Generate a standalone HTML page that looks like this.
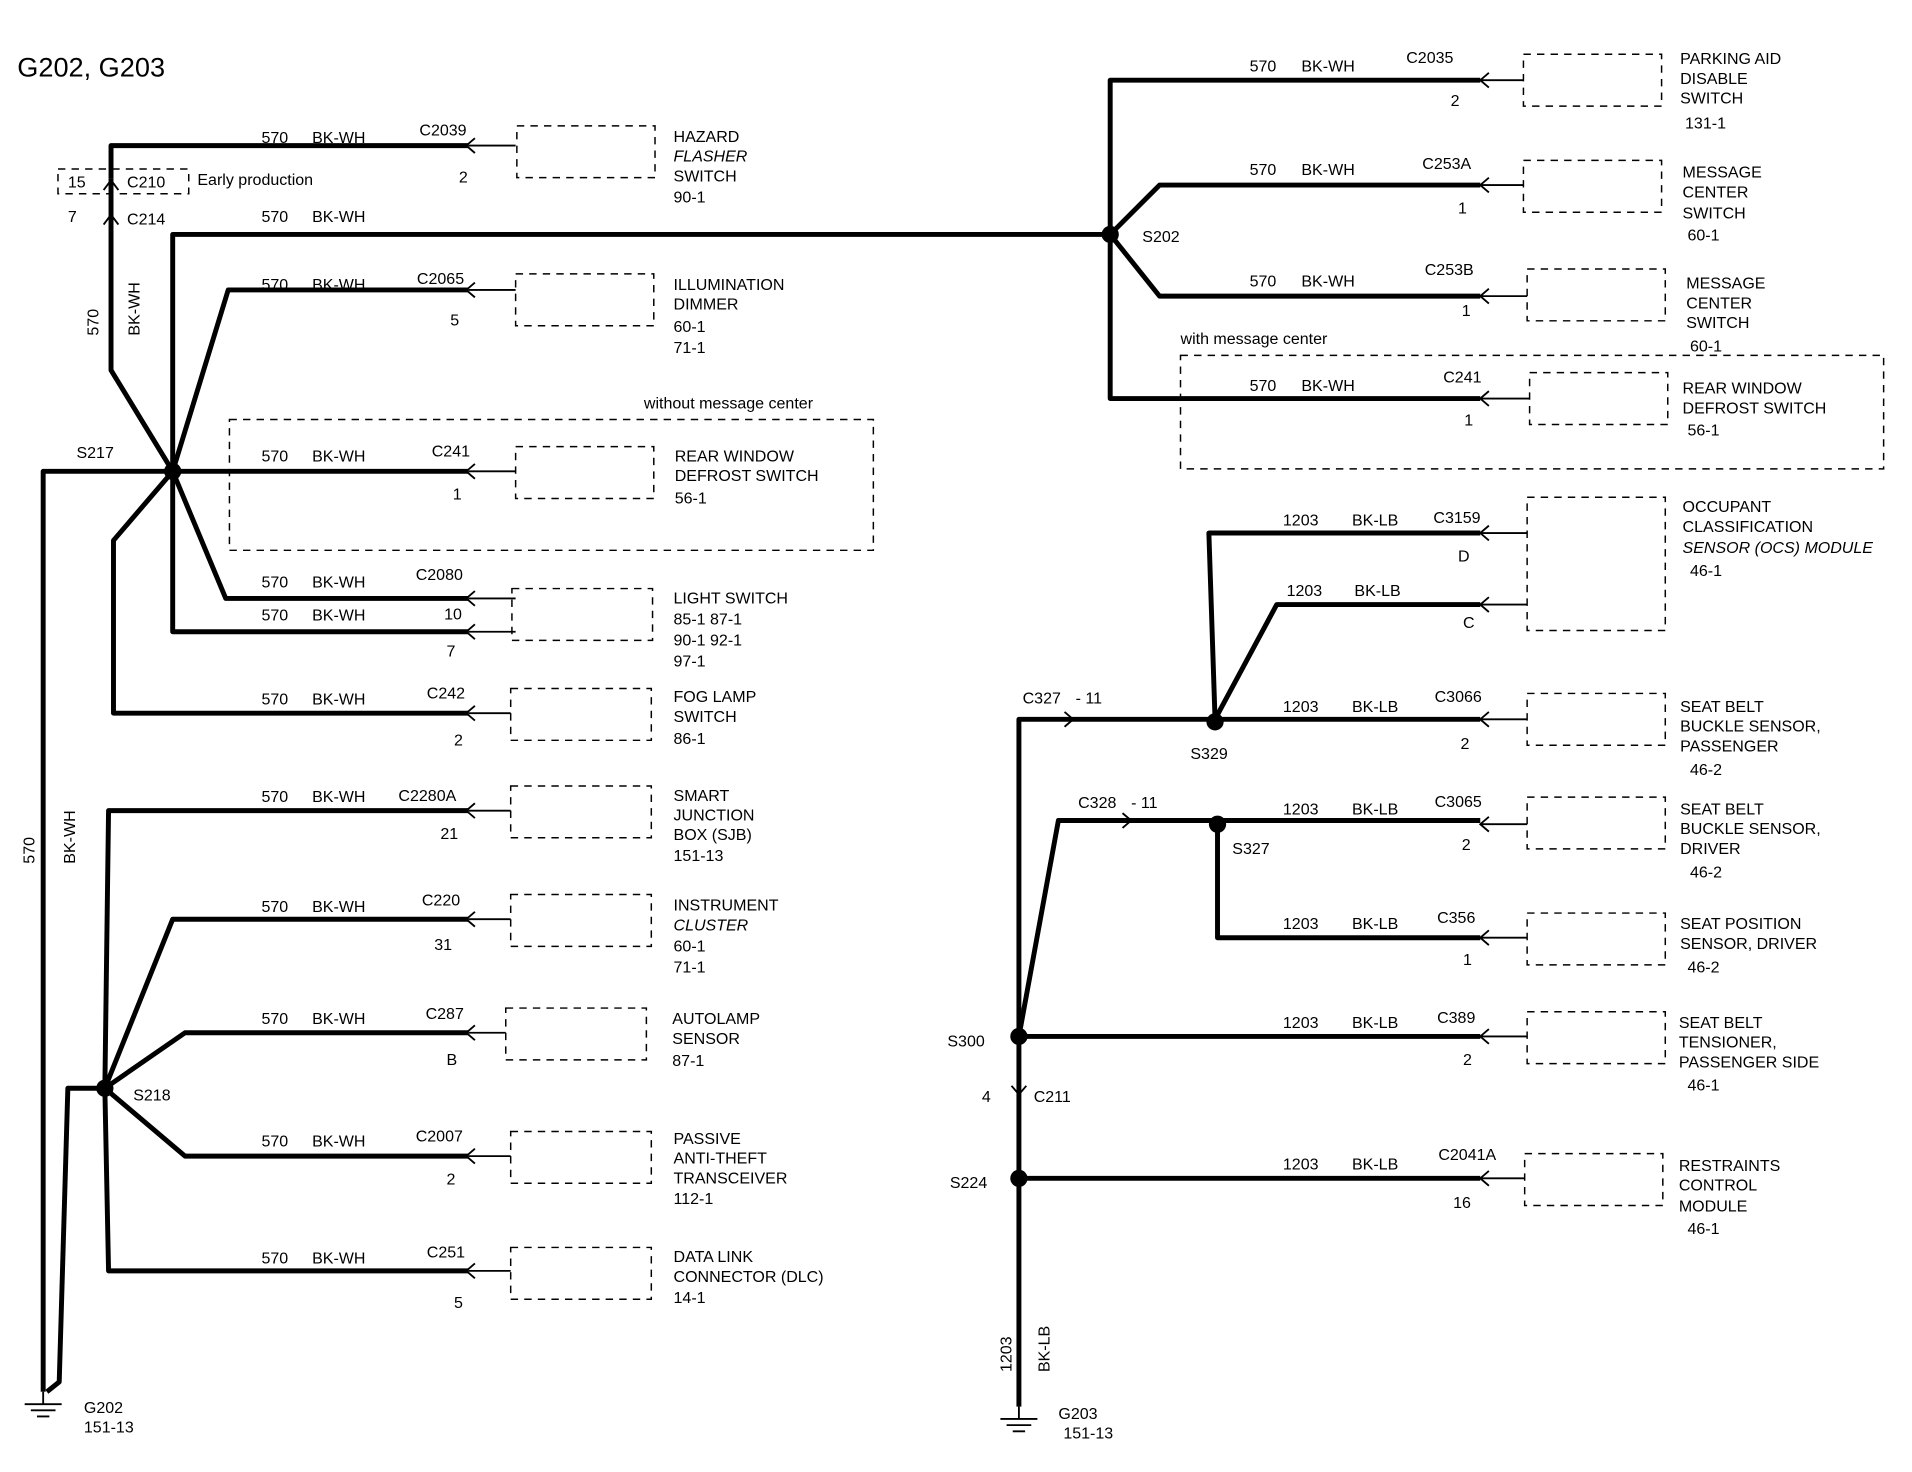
<!DOCTYPE html>
<html><head><meta charset="utf-8"><style>
html,body{margin:0;padding:0;background:#fff;}
svg{display:block}
text{font-family:"Liberation Sans",sans-serif;font-size:13px;fill:#000}
.w{stroke:#000;stroke-width:4;fill:none;stroke-linejoin:round}
.t{stroke:#000;stroke-width:1.5;fill:none}
.b{stroke:#000;stroke-width:1.2;fill:none;stroke-dasharray:6,5}
</style></head><body>
<svg width="1912" height="1472" viewBox="0 0 1550 1193" preserveAspectRatio="none" xmlns="http://www.w3.org/2000/svg">
<text x="14" y="62" style="font-size:22px">G202, G203</text>

<!-- LEFT wires -->
<path class="w" d="M90,145 V118 H380"/>
<path class="w" d="M90,145 V300 L140,382"/>
<path class="w" d="M140,382 V190 H900"/>
<path class="w" d="M140,382 L185,235 H380"/>
<path class="w" d="M140,382 H380"/>
<path class="w" d="M140,382 L183,485 H380"/>
<path class="w" d="M140,382 V512 H380"/>
<path class="w" d="M140,382 L92,438 V578 H380"/>
<path class="w" d="M140,382 H35 V1128"/>
<path class="w" d="M85,882 L88,657 H380"/>
<path class="w" d="M85,882 L140,745 H380"/>
<path class="w" d="M85,882 L150,837 H380"/>
<path class="w" d="M85,882 L150,937 H380"/>
<path class="w" d="M85,882 L88,1030 H380"/>
<path class="w" d="M85,882 H55 L48,1120 L38,1128"/>
<circle cx="140" cy="382" r="7"/>
<circle cx="85" cy="882" r="7"/>
<text x="62" y="371">S217</text>
<text x="108" y="892">S218</text>
<!-- C210 / C214 -->
<rect class="b" x="47" y="137" width="106" height="20"/>
<text x="55" y="152">15</text><text x="103" y="152">C210</text>
<text x="160" y="150">Early production</text>
<text x="55" y="180">7</text><text x="103" y="182">C214</text>
<path class="t" d="M84,154 L90,146 L96,154 M84,182 L90,174 L96,182"/>
<text transform="translate(80,272) rotate(-90)">570</text>
<text transform="translate(113,272) rotate(-90)">BK-WH</text>
<text transform="translate(28,700) rotate(-90)">570</text>
<text transform="translate(61,700) rotate(-90)">BK-WH</text>
<!-- ground G202 -->
<path class="t" d="M35,1128 V1138 M20,1138 H50 M25,1143 H45 M30,1148 H40"/>
<text x="68" y="1145">G202</text><text x="68" y="1161">151-13</text>

<!-- left connectors -->
<g id="lc">
<path class="t" d="M380,118 H418 M385,112 L378,118 L385,124 M380,235 H418 M385,229 L378,235 L385,241 M380,382 H418 M385,376 L378,382 L385,388 M380,485 H418 M385,479 L378,485 L385,491 M380,512 H418 M385,506 L378,512 L385,518 M380,578 H414 M385,572 L378,578 L385,584 M380,657 H414 M385,651 L378,657 L385,663 M380,745 H414 M385,739 L378,745 L385,751 M380,837 H410 M385,831 L378,837 L385,843 M380,937 H414 M385,931 L378,937 L385,943 M380,1030 H414 M385,1024 L378,1030 L385,1036"/>
</g>
<rect class="b" x="419" y="102" width="112" height="42"/>
<rect class="b" x="418" y="222" width="112" height="42"/>
<rect class="b" x="418" y="362" width="112" height="42"/>
<rect class="b" x="415" y="477" width="114" height="42"/>
<rect class="b" x="414" y="558" width="114" height="42"/>
<rect class="b" x="414" y="637" width="114" height="42"/>
<rect class="b" x="414" y="725" width="114" height="42"/>
<rect class="b" x="410" y="817" width="114" height="42"/>
<rect class="b" x="414" y="917" width="114" height="42"/>
<rect class="b" x="414" y="1011" width="114" height="42"/>
<rect class="b" x="186" y="340" width="522" height="106"/>
<text x="522" y="331">without message center</text>

<g>
<text x="212" y="116">570</text><text x="253" y="116">BK-WH</text><text x="340" y="110">C2039</text><text x="372" y="148">2</text>
<text x="212" y="180">570</text><text x="253" y="180">BK-WH</text>
<text x="212" y="235">570</text><text x="253" y="235">BK-WH</text><text x="338" y="230">C2065</text><text x="365" y="264">5</text>
<text x="212" y="374">570</text><text x="253" y="374">BK-WH</text><text x="350" y="370">C241</text><text x="367" y="405">1</text>
<text x="212" y="476">570</text><text x="253" y="476">BK-WH</text><text x="337" y="470">C2080</text>
<text x="212" y="503">570</text><text x="253" y="503">BK-WH</text><text x="360" y="502">10</text><text x="362" y="532">7</text>
<text x="212" y="571">570</text><text x="253" y="571">BK-WH</text><text x="346" y="566">C242</text><text x="368" y="604">2</text>
<text x="212" y="650">570</text><text x="253" y="650">BK-WH</text><text x="323" y="649">C2280A</text><text x="357" y="680">21</text>
<text x="212" y="739">570</text><text x="253" y="739">BK-WH</text><text x="342" y="734">C220</text><text x="352" y="770">31</text>
<text x="212" y="830">570</text><text x="253" y="830">BK-WH</text><text x="345" y="826">C287</text><text x="362" y="863">B</text>
<text x="212" y="929">570</text><text x="253" y="929">BK-WH</text><text x="337" y="925">C2007</text><text x="362" y="960">2</text>
<text x="212" y="1024">570</text><text x="253" y="1024">BK-WH</text><text x="346" y="1019">C251</text><text x="368" y="1060">5</text>
</g>
<g>
<text x="546" y="115">HAZARD</text><text x="546" y="131" font-style="italic">FLASHER</text><text x="546" y="147">SWITCH</text><text x="546" y="164">90-1</text>
<text x="546" y="235">ILLUMINATION</text><text x="546" y="251">DIMMER</text><text x="546" y="269">60-1</text><text x="546" y="286">71-1</text>
<text x="547" y="374">REAR WINDOW</text><text x="547" y="390">DEFROST SWITCH</text><text x="547" y="408">56-1</text>
<text x="546" y="489">LIGHT  SWITCH</text><text x="546" y="506">85-1    87-1</text><text x="546" y="523">90-1    92-1</text><text x="546" y="540">97-1</text>
<text x="546" y="569">FOG LAMP</text><text x="546" y="585">SWITCH</text><text x="546" y="603">86-1</text>
<text x="546" y="649">SMART</text><text x="546" y="665">JUNCTION</text><text x="546" y="681">BOX (SJB)</text><text x="546" y="698">151-13</text>
<text x="546" y="738">INSTRUMENT</text><text x="546" y="754" font-style="italic">CLUSTER</text><text x="546" y="771">60-1</text><text x="546" y="788">71-1</text>
<text x="545" y="830">AUTOLAMP</text><text x="545" y="846">SENSOR</text><text x="545" y="864">87-1</text>
<text x="546" y="927">PASSIVE</text><text x="546" y="943">ANTI-THEFT</text><text x="546" y="959">TRANSCEIVER</text><text x="546" y="976">112-1</text>
<text x="546" y="1023">DATA LINK</text><text x="546" y="1039">CONNECTOR (DLC)</text><text x="546" y="1056">14-1</text>
</g>

<!-- RIGHT upper -->
<path class="w" d="M900,190 V65 H1200"/>
<path class="w" d="M900,190 L940,150 H1200"/>
<path class="w" d="M900,190 L940,240 H1200"/>
<path class="w" d="M900,190 V323 H1200"/>
<circle cx="900" cy="190" r="7"/>
<text x="926" y="196">S202</text>
<path class="t" d="M1200,65 H1235 M1207,59 L1200,65 L1207,71 M1200,150 H1235 M1207,144 L1200,150 L1207,156 M1200,240 H1238 M1207,234 L1200,240 L1207,246 M1200,323 H1240 M1207,317 L1200,323 L1207,329"/>
<rect class="b" x="1235" y="44" width="112" height="42"/>
<rect class="b" x="1235" y="130" width="112" height="42"/>
<rect class="b" x="1238" y="218" width="112" height="42"/>
<rect class="b" x="1240" y="302" width="112" height="42"/>
<rect class="b" x="957" y="288" width="570" height="92"/>
<text x="957" y="279">with message center</text>
<text x="1013" y="58">570</text><text x="1055" y="58">BK-WH</text><text x="1140" y="51">C2035</text><text x="1176" y="86">2</text>
<text x="1013" y="142">570</text><text x="1055" y="142">BK-WH</text><text x="1153" y="137">C253A</text><text x="1182" y="173">1</text>
<text x="1013" y="232">570</text><text x="1055" y="232">BK-WH</text><text x="1155" y="223">C253B</text><text x="1185" y="256">1</text>
<text x="1013" y="317">570</text><text x="1055" y="317">BK-WH</text><text x="1170" y="310">C241</text><text x="1187" y="345">1</text>
<text x="1362" y="52">PARKING AID</text><text x="1362" y="68">DISABLE</text><text x="1362" y="84">SWITCH</text><text x="1366" y="104">131-1</text>
<text x="1364" y="144">MESSAGE</text><text x="1364" y="160">CENTER</text><text x="1364" y="177">SWITCH</text><text x="1368" y="195">60-1</text>
<text x="1367" y="234">MESSAGE</text><text x="1367" y="250">CENTER</text><text x="1367" y="266">SWITCH</text><text x="1370" y="285">60-1</text>
<text x="1364" y="319">REAR WINDOW</text><text x="1364" y="335">DEFROST SWITCH</text><text x="1368" y="353">56-1</text>

<!-- RIGHT lower -->
<path class="w" d="M826,1140 V583 H985"/>
<path class="w" d="M985,583 L980,432 H1200"/>
<path class="w" d="M985,583 L1035,490 H1200"/>
<path class="w" d="M985,583 H1200"/>
<path class="w" d="M826,840 L858,665 H987 H1200"/>
<path class="w" d="M987,668 V760 H1200"/>
<path class="w" d="M826,840 H1200"/>
<path class="w" d="M826,955 H1200"/>
<circle cx="985" cy="585" r="7"/><circle cx="987" cy="668" r="7"/><circle cx="826" cy="840" r="7"/><circle cx="826" cy="955" r="7"/>
<path class="t" d="M863,577 L870,583 L863,589 M910,659 L917,665 L910,671 M820,880 L826,887 L832,880"/>
<text x="829" y="570">C327</text><text x="872" y="570">- 11</text>
<text x="874" y="655">C328</text><text x="917" y="655">- 11</text>
<text x="965" y="615">S329</text><text x="999" y="692">S327</text>
<text x="768" y="848">S300</text><text x="770" y="963">S224</text>
<text x="796" y="893">4</text><text x="838" y="893">C211</text>
<text transform="translate(820,1112) rotate(-90)">1203</text>
<text transform="translate(851,1112) rotate(-90)">BK-LB</text>
<path class="t" d="M826,1140 V1150 M811,1150 H841 M816,1155 H836 M821,1160 H831"/>
<text x="858" y="1150">G203</text><text x="862" y="1166">151-13</text>
<path class="t" d="M1200,432 H1238 M1207,426 L1200,432 L1207,438 M1200,490 H1238 M1207,484 L1200,490 L1207,496 M1200,583 H1238 M1207,577 L1200,583 L1207,589 M1200,668 H1238 M1207,662 L1200,668 L1207,674 M1200,760 H1238 M1207,754 L1200,760 L1207,766 M1200,840 H1238 M1207,834 L1200,840 L1207,846 M1200,955 H1236 M1207,949 L1200,955 L1207,961"/>
<rect class="b" x="1238" y="403" width="112" height="108"/>
<rect class="b" x="1238" y="562" width="112" height="42"/>
<rect class="b" x="1238" y="646" width="112" height="42"/>
<rect class="b" x="1238" y="740" width="112" height="42"/>
<rect class="b" x="1238" y="820" width="112" height="42"/>
<rect class="b" x="1236" y="935" width="112" height="42"/>
<text x="1040" y="426">1203</text><text x="1096" y="426">BK-LB</text><text x="1162" y="424">C3159</text><text x="1182" y="455">D</text>
<text x="1043" y="483">1203</text><text x="1098" y="483">BK-LB</text><text x="1186" y="509">C</text>
<text x="1040" y="577">1203</text><text x="1096" y="577">BK-LB</text><text x="1163" y="569">C3066</text><text x="1184" y="607">2</text>
<text x="1040" y="660">1203</text><text x="1096" y="660">BK-LB</text><text x="1163" y="654">C3065</text><text x="1185" y="689">2</text>
<text x="1040" y="753">1203</text><text x="1096" y="753">BK-LB</text><text x="1165" y="748">C356</text><text x="1186" y="782">1</text>
<text x="1040" y="833">1203</text><text x="1096" y="833">BK-LB</text><text x="1165" y="829">C389</text><text x="1186" y="863">2</text>
<text x="1040" y="948">1203</text><text x="1096" y="948">BK-LB</text><text x="1166" y="940">C2041A</text><text x="1178" y="979">16</text>
<text x="1364" y="415">OCCUPANT</text><text x="1364" y="431">CLASSIFICATION</text><text x="1364" y="448" font-style="italic">SENSOR (OCS) MODULE</text><text x="1370" y="467">46-1</text>
<text x="1362" y="577">SEAT BELT</text><text x="1362" y="593">BUCKLE SENSOR,</text><text x="1362" y="609">PASSENGER</text><text x="1370" y="628">46-2</text>
<text x="1362" y="660">SEAT BELT</text><text x="1362" y="676">BUCKLE SENSOR,</text><text x="1362" y="692">DRIVER</text><text x="1370" y="711">46-2</text>
<text x="1362" y="753">SEAT POSITION</text><text x="1362" y="769">SENSOR, DRIVER</text><text x="1368" y="788">46-2</text>
<text x="1361" y="833">SEAT BELT</text><text x="1361" y="849">TENSIONER,</text><text x="1361" y="865">PASSENGER SIDE</text><text x="1368" y="884">46-1</text>
<text x="1361" y="949">RESTRAINTS</text><text x="1361" y="965">CONTROL</text><text x="1361" y="982">MODULE</text><text x="1368" y="1000">46-1</text>
</svg>
</body></html>
